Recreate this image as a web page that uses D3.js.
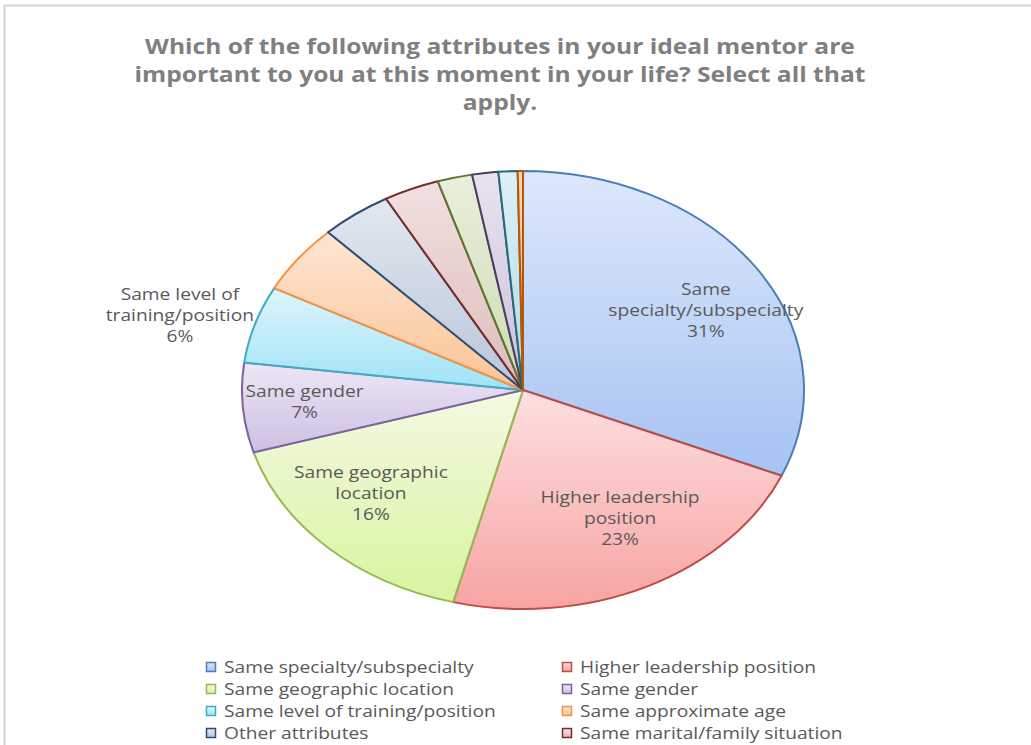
<!DOCTYPE html>
<html>
<head>
<meta charset="utf-8">
<script src="https://cdn.jsdelivr.net/npm/d3@7"></script>
<style>
  body { margin: 0; background: #fff; }
  svg { display: block; }
  text { font-family: "Open Sans", sans-serif; }
</style>
</head>
<body>
<div id="chart"></div>
<script>
// mentor attributes pie, Excel-style

var width = 1031;
var height = 745;

// the source picture is stretched sideways, text included
var stretch = 1.2;

var titleLines = [
  "Which of the following attributes in your ideal mentor are",
  "important  to you at this moment in your life? Select all that",
  "apply."
];

var categories = [
  "Same specialty/subspecialty",
  "Higher leadership position",
  "Same geographic location",
  "Same gender",
  "Same level of training/position",
  "Same approximate age",
  "Other attributes",
  "Same marital/family situation",
  "Same race/ethnicity",
  "Same religion",
  "Same sexual orientation",
  "Same hobbies/interests"
];

// share of responses, percent
var values = [31.4, 22.6, 16.4, 6.6, 5.7, 5.1, 4.1, 3.2, 2.0, 1.5, 1.1, 0.3];

// wrapped data labels (only the five biggest slices carry one)
var labelLines = [
  ["Same", "specialty/subspecialty"],
  ["Higher leadership", "position"],
  ["Same geographic", "location"],
  ["Same gender"],
  ["Same level of", "training/position"]
];

var fillTop = ["#dde8fb", "#fde0e0", "#f3fae2", "#ede7f5", "#def5fc", "#fee6d2",
               "#e3e8f0", "#f2e0e0", "#e8efdb", "#e8e3ef", "#ddf0f5", "#fdd9b9"];
var fillBottom = ["#a6c3f3", "#f8a3a3", "#d8f4a0", "#cdbfe4", "#9fe3f7", "#fbc496",
                  "#b9c5d9", "#dcbcbc", "#cedbb3", "#cbc0da", "#b0dae6", "#f2a35e"];
var strokes = ["#4a7ebb", "#be4b48", "#98b954", "#7d60a0", "#46aac5", "#f69240",
               "#2c4d75", "#772c2a", "#5f7530", "#4d3b62", "#276a7c", "#b65708"];

var cx = 523, cy = 390;
var rx = 281, ry = 219;

var svg = d3.select("#chart")
  .append("svg")
  .attr("width", width)
  .attr("height", height);

// gradients
var defs = svg.append("defs");
categories.forEach(function(c, i) {
  var g = defs.append("linearGradient")
    .attr("id", "grad" + i)
    .attr("x1", 0).attr("y1", 0)
    .attr("x2", 0).attr("y2", 1);
  g.append("stop").attr("offset", "0%").attr("stop-color", fillTop[i]);
  g.append("stop").attr("offset", "100%").attr("stop-color", fillBottom[i]);
});

// frame (top and left edge visible in the crop)
svg.append("line")
  .attr("x1", 4).attr("y1", 5.5).attr("x2", width).attr("y2", 5.5)
  .attr("stroke", "#d4d4d4").attr("stroke-width", 2);
svg.append("line")
  .attr("x1", 4.5).attr("y1", 5).attr("x2", 4.5).attr("y2", height)
  .attr("stroke", "#d4d4d4").attr("stroke-width", 2);

// title
svg.append("text")
  .attr("transform", "translate(500,47) scale(" + stretch + ",1)")
  .attr("text-anchor", "middle")
  .attr("fill", "#7f7f7f")
  .style("font-size", "20.5px")
  .style("font-weight", "bold")
  .selectAll("tspan")
  .data(titleLines)
  .enter()
  .append("tspan")
  .attr("x", 0)
  .attr("y", function(d, i) { return i * 28; })
  .attr("dy", "0.35em")
  .text(function(d) { return d; });

// pie drawn on a radius of 100, stretched to the ellipse
var R = 100;
var pie = d3.pie().sort(null).value(function(d) { return d; });
var arcs = pie(values);
var arc = d3.arc().innerRadius(0).outerRadius(R);

var pieGroup = svg.append("g")
  .attr("transform", "translate(" + cx + "," + cy + ") scale(" + (rx / R) + "," + (ry / R) + ")");

pieGroup.selectAll(".slice")
  .data(arcs)
  .enter()
  .append("path")
  .attr("class", "slice")
  .attr("d", arc)
  .attr("fill", function(d, i) { return "url(#grad" + i + ")"; })
  .attr("stroke", function(d, i) { return strokes[i]; })
  .attr("stroke-width", 2)
  .attr("stroke-linejoin", "round")
  .attr("vector-effect", "non-scaling-stroke");

// data labels: inside when the slice is wide enough, otherwise outside
svg.selectAll(".data-label")
  .data(arcs.slice(0, labelLines.length))
  .enter()
  .append("text")
  .attr("class", "data-label")
  .attr("text-anchor", "middle")
  .attr("fill", "#595959")
  .style("font-size", "16px")
  .each(function(d, i) {
    var mid = (d.startAngle + d.endAngle) / 2;
    var outside = (d.endAngle - d.startAngle) < 0.4;
    var fx = outside ? 1.28 : 0.78;
    var fy = outside ? 1.13 : 0.655;
    var x = cx + Math.sin(mid) * rx * fx;
    var y = cy - Math.cos(mid) * ry * fy;
    var lines = labelLines[i].concat([Math.round(values[i]) + "%"]);
    var t = d3.select(this)
      .attr("transform", "translate(" + x + "," + y + ") scale(" + stretch + ",1)");
    var y0 = -(lines.length - 1) * 21 / 2;
    lines.forEach(function(line, j) {
      t.append("tspan")
        .attr("x", 0)
        .attr("y", y0 + j * 21)
        .attr("dy", "0.35em")
        .text(line);
    });
  });

// legend, two columns; rows below the crop are not drawn
var rowStart = 667, rowStep = 22;
var legendItems = categories.filter(function(d, i) {
  return rowStart + Math.floor(i / 2) * rowStep < height;
});

var legend = svg.selectAll(".legend-item")
  .data(legendItems)
  .enter()
  .append("g")
  .attr("class", "legend-item")
  .attr("transform", function(d, i) {
    var x = i % 2 === 0 ? 206 : 562;
    var y = rowStart + Math.floor(i / 2) * rowStep;
    return "translate(" + x + "," + y + ")";
  });

legend.append("rect")
  .attr("x", 0.5)
  .attr("y", -4.5)
  .attr("width", 9)
  .attr("height", 9)
  .attr("fill", function(d, i) { return "url(#grad" + i + ")"; })
  .attr("stroke", function(d, i) { return strokes[i]; })
  .attr("stroke-width", 1.5);

legend.append("text")
  .attr("transform", "translate(18,0) scale(" + stretch + ",1)")
  .attr("dy", "0.35em")
  .attr("fill", "#595959")
  .style("font-size", "16px")
  .text(function(d) { return d; });
</script>
</body>
</html>
